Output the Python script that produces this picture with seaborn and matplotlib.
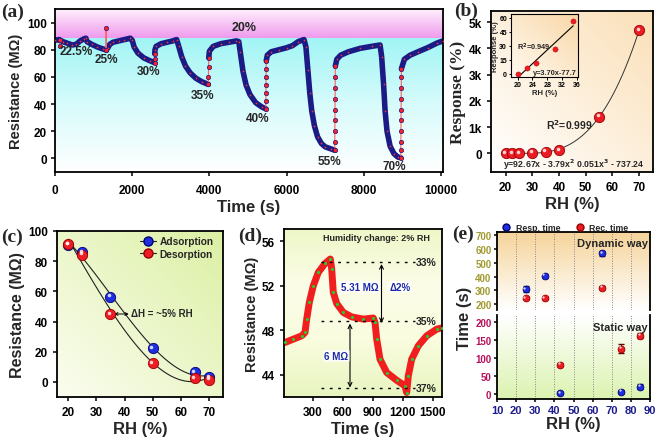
import numpy as np
import pandas as pd
import matplotlib
matplotlib.use("Agg")
import matplotlib.pyplot as plt
import seaborn as sns
from matplotlib.colors import LinearSegmentedColormap
from matplotlib.lines import Line2D
from matplotlib.transforms import offset_copy
from matplotlib.ticker import FuncFormatter

# ---------------- data ----------------
# (a) dynamic resistance response
time_a = [0, 100, 126, 128, 130, 200, 300, 450, 550, 650, 750, 800, 830, 950, 1100, 1250, 1323, 1325, 1327,
          1360, 1420, 1500, 1650, 1800, 1950,
          2000, 2050, 2150, 2300, 2450, 2580, 2582, 2584, 2590, 2620, 2750, 2900, 3050, 3150,
          3200, 3280, 3380, 3500, 3650, 3800, 3970, 3974, 3978, 3982, 4000, 4100, 4300, 4500, 4700, 4760,
          4800, 4870, 4950, 5050, 5200, 5350, 5460, 5462, 5464, 5466, 5468, 5470, 5472, 5500, 5600, 5800,
          6000, 6150, 6300, 6450,
          6500, 6550, 6600, 6650, 6720, 6800, 6900, 7000, 7150, 7245, 7247, 7249, 7251, 7253, 7255, 7257,
          7259, 7261, 7300, 7400, 7600, 7900, 8200, 8420,
          8460, 8510, 8550, 8600, 8680, 8780, 8880, 8955, 8957, 8959, 8961, 8963, 8965, 8967, 8969, 8971,
          8973, 9050, 9200, 9400, 9650, 9900, 10050]
res_a = [87, 87.5, 87, 83, 87, 86, 85, 83.5, 84, 86.5, 88, 88.5, 86, 84, 82, 80.5, 80, 96, 80,
         81, 84, 85.5, 86.5, 87.5, 88.5,
         87, 82, 77.5, 74, 72, 70.5, 73, 77, 80, 82.5, 84.5, 85.5, 86.5, 87.5,
         83, 75, 68, 63, 59, 56.5, 54.5, 60, 67, 74, 79, 82.5, 84.5, 85.5, 86.5, 86,
         78, 64, 54, 47, 41, 38, 36.5, 42, 48, 54, 60, 66, 72, 76, 78.5, 80,
         81.5, 83, 86, 87.5,
         82, 65, 48, 35, 24, 16, 11, 8.5, 7, 6, 12, 20, 28, 36, 44, 52,
         60, 68, 73, 76, 78.5, 81, 82.5, 83.5,
         75, 55, 35, 20, 9, 3.5, 1, 0.5, 6, 12, 20, 28, 36, 44, 52, 60,
         66, 73, 76, 78.5, 81.5, 85, 86.5]
labels_a = ["22.5%", "25%", "30%", "35%", "40%", "55%", "70%"]
label_t_a = [560, 1330, 2420, 3810, 5260, 7100, 8790]
label_r_a = [79, 73.5, 64, 47, 29.5, -2, -5.5]

# (b) response vs RH
rh_b = [20, 22.5, 25, 30, 35, 40, 55, 70]
resp_b = [0, 6, 11, 26, 57, 130, 1400, 4700]
n_inset = 5

# (c) hysteresis
rh_c = [20, 25, 35, 50, 65, 70]
ads_c = [91, 86, 56.4, 22.4, 6.6, 3.1]
des_c = [91.4, 84.2, 44.7, 12.5, 2.6, 1.5]

# (d) 2% RH change
time_d = [25, 108, 192, 225, 242, 268, 308, 358, 425, 478, 492, 508, 542, 608, 692, 808, 908, 925,
          942, 975, 1042, 1142, 1225, 1242, 1258, 1292, 1358, 1442, 1542, 1590]
res_d = [46.9, 47.2, 47.5, 47.8, 49.0, 50.5, 52.0, 53.2, 54.0, 54.4, 53.5, 51.4, 50.4, 49.6, 49.2, 49.0,
         49.1, 48.7, 47.2, 45.4, 44.2, 43.5, 43.0, 42.4, 43.9, 45.4, 46.6, 47.5, 48.1, 48.2]
levels_d = [54.15, 48.85, 42.85]
level_labels_d = ["33%", "35%", "37%"]

# (e) response / recovery times
rh_dyn = [25, 35, 65]
resp_dyn = [308, 405, 568]
resp_dyn_err = [20, 15, 18]
rec_dyn = [245, 245, 320]
rec_dyn_err = [8, 6, 8]
rh_sta = [43, 75, 85]
resp_sta = [2, 6, 20]
resp_sta_err = [3, 4, 7]
rec_sta = [82, 126, 162]
rec_sta_err = [4, 12, 7]

# ---------------- style ----------------
sns.set_theme(style="ticks")
plt.rcParams["font.family"] = ["Liberation Sans", "DejaVu Sans"]
plt.rcParams.update({
    "font.weight": "bold", "axes.labelweight": "bold", "axes.linewidth": 1.3,
    "xtick.major.width": 1.1, "ytick.major.width": 1.1,
    "xtick.major.size": 3, "ytick.major.size": 3,
    "xtick.color": "black", "ytick.color": "black", "axes.edgecolor": "black",
    "xtick.labelsize": 8.5, "ytick.labelsize": 8.5, "axes.labelsize": 11.5,
})

W, H = 660, 439
fig = plt.figure(figsize=(6.6, 4.39), dpi=100)


def box(l, t, r, b):
    return [l / W, 1 - b / H, (r - l) / W, (b - t) / H]


def grad_bg(ax, c0, c1, mode="v", z=-5):
    cmap = LinearSegmentedColormap.from_list("g", [c0, c1])
    n = 200
    xx, yy = np.meshgrid(np.linspace(0, 1, n), np.linspace(1, 0, n))
    if mode == "v":
        g = yy
    elif mode == "d":
        g = (xx + yy) / 2
    else:
        g = xx
    ax.imshow(g, extent=(0, 1, 0, 1), transform=ax.transAxes, cmap=cmap, aspect="auto",
              zorder=z, interpolation="bilinear")


def spheres(ax, x, y, s, color, edge, hl="white"):
    ax.scatter(x, y, s=s, color=color, edgecolor=edge, linewidth=0.6, zorder=4)
    tr = offset_copy(ax.transData, fig=fig, x=-1.0, y=1.0, units="points")
    ax.scatter(x, y, s=s * 0.12, color=hl, alpha=0.8, linewidth=0, zorder=5, transform=tr)


RED = "#ec1c24"
BLUE = "#1f2fe0"
NAVY = "#1b1b86"
serif = ["Liberation Serif", "DejaVu Serif"]

# ---------------- (a) ----------------
axa = fig.add_axes(box(55, 10, 443, 173))
axa.set_xlim(0, 10050)
axa.set_ylim(-10, 110)
pink = LinearSegmentedColormap.from_list("p", ["#fff0fd", "#ee98ec"])
cyan = LinearSegmentedColormap.from_list("c", ["#a2f5f5", "#d8fbfb", "#ffffff"])
axa.imshow(np.linspace(0, 1, 100)[:, None], extent=(0, 10050, 88, 110), cmap=pink,
           aspect="auto", zorder=0, origin="upper")
axa.imshow(np.linspace(0, 1, 100)[:, None], extent=(0, 10050, -10, 88), cmap=cyan,
           aspect="auto", zorder=0, origin="upper")
df_a = pd.DataFrame({"t": time_a, "r": res_a})
slope = df_a.r.diff().abs() / df_a.t.diff()
steep_prev = (slope > 1.0).fillna(False)
steep_next = steep_prev.shift(-1, fill_value=False)
interior = steep_prev & steep_next
in_jump = steep_prev | steep_next
axa.plot(df_a.t, df_a.r.where(~interior), color=NAVY, lw=4.0, zorder=2,
         solid_capstyle="round", solid_joinstyle="round")
axa.plot(df_a.t, df_a.r.where(in_jump), color="#ff6060", lw=0.8, zorder=3)
sns.scatterplot(x=df_a.t[in_jump], y=df_a.r[in_jump], s=10, color="#ff2020", edgecolor=NAVY,
                linewidth=0.5, ax=axa, zorder=4)
sns.scatterplot(x=df_a.t[~in_jump], y=df_a.r[~in_jump], s=1.5, color="#ff3030", linewidth=0,
                ax=axa, zorder=4)
for lab, tx, ry in zip(labels_a, label_t_a, label_r_a):
    axa.text(tx, ry, lab, ha="center", va="center", fontsize=8.5, fontweight="bold", zorder=6)
axa.text(4900, 97, "20%", ha="center", va="center", fontsize=9, fontweight="bold", zorder=6)
axa.set_xticks([0, 2000, 4000, 6000, 8000, 10000])
axa.set_yticks([0, 20, 40, 60, 80, 100])
axa.set_xlabel("Time (s)", fontsize=12, labelpad=2)
axa.set_ylabel("Resistance (MΩ)", fontsize=10.5, labelpad=3)
axa.tick_params(axis="x", pad=6)
axa.tick_params(axis="y", pad=3)

# ---------------- (b) ----------------
axb = fig.add_axes(box(491, 12, 653, 173))
grad_bg(axb, "#ffffff", "#fbe0b8", "d")
sns.regplot(x=rh_b, y=resp_b, order=3, ci=None, scatter=False, truncate=True,
            line_kws=dict(color="#333333", lw=0.7), ax=axb)
spheres(axb, rh_b, resp_b, 55, RED, "#9a0000")
axb.set_xlim(14.5, 75.2)
axb.set_ylim(-710, 5430)
axb.set_xticks([20, 30, 40, 50, 60, 70])
axb.set_yticks([0, 1000, 2000, 3000, 4000, 5000])
axb.yaxis.set_major_formatter(FuncFormatter(lambda v, p: "0" if v == 0 else f"{int(v / 1000)}k"))
axb.set_xlabel("RH (%)", fontsize=12, labelpad=2)
axb.set_ylabel("Response (%)", fontsize=12.5, family=serif, labelpad=2)
axb.text(43.7, 1120, "R$^\\mathbf{2}$=0.999", ha="center", va="center", fontsize=7.5, fontweight="bold")
axb.text(45.3, -410, "y=92.67x - 3.79x$^\\mathbf{2}$ 0.051x$^\\mathbf{3}$ - 737.24", ha="center",
         va="center", fontsize=6.3, fontweight="bold")

axi = fig.add_axes(box(511, 15, 578, 78))
grad_bg(axi, "#fffaf0", "#f9d7a8", "d")
sns.regplot(x=rh_b[:n_inset], y=resp_b[:n_inset], order=1, ci=None, scatter=False, truncate=True,
            line_kws=dict(color="black", lw=0.8), ax=axi)
sns.scatterplot(x=rh_b[:n_inset], y=resp_b[:n_inset], s=14, color=RED, edgecolor="#b00000",
                linewidth=0.3, ax=axi, zorder=4)
axi.set_xlim(18.2, 36.3)
axi.set_ylim(-3.5, 64)
axi.set_xticks([20, 24, 28, 32, 36])
axi.set_yticks([0, 15, 30, 45, 60])
axi.tick_params(labelsize=5, length=1.8, width=0.7, pad=1)
for s in axi.spines.values():
    s.set_linewidth(0.8)
axi.set_xlabel("RH (%)", fontsize=5.5, labelpad=0.5)
axi.set_ylabel("Response (%)", fontsize=5.5, labelpad=0.5)
axi.text(24.5, 29.5, "R$^\\mathbf{2}$=0.949", ha="center", va="center", fontsize=5.3, fontweight="bold")
axi.text(36.0, 0.8, "y=3.70x-77.7", ha="right", va="center", fontsize=5.3, fontweight="bold")

# ---------------- (c) ----------------
axc = fig.add_axes(box(57, 232, 223, 398))
grad_bg(axc, "#fbfdf0", "#dcf0a4", "d")
sns.regplot(x=rh_c, y=ads_c, order=3, ci=None, scatter=False, truncate=True,
            line_kws=dict(color="#222222", lw=0.8), ax=axc)
sns.regplot(x=rh_c, y=des_c, order=3, ci=None, scatter=False, truncate=True,
            line_kws=dict(color="#222222", lw=0.8), ax=axc)
spheres(axc, rh_c, ads_c, 55, BLUE, "#000070")
spheres(axc, rh_c, des_c, 55, RED, "#9a0000")
axc.set_xlim(16, 75)
axc.set_ylim(-10, 100)
axc.set_xticks([20, 30, 40, 50, 60, 70])
axc.set_yticks([0, 20, 40, 60, 80, 100])
axc.set_xlabel("RH (%)", fontsize=12, labelpad=2)
axc.set_ylabel("Resistance (MΩ)", fontsize=11.5, labelpad=2)
axc.annotate("", xy=(36.3, 45), xytext=(41.5, 45),
             arrowprops=dict(arrowstyle="<->", lw=0.7, color="black", shrinkA=0, shrinkB=0,
                             mutation_scale=5))
axc.text(42.3, 45.5, "ΔH = ~5% RH", ha="left", va="center", fontsize=7, fontweight="bold")
hnd = [Line2D([], [], color="#222222", lw=0.8, marker="o", ms=6.5, mfc=BLUE, mec="#000070"),
       Line2D([], [], color="#222222", lw=0.8, marker="o", ms=6.5, mfc=RED, mec="#9a0000")]
axc.legend(hnd, ["Adsorption", "Desorption"], loc="upper left", bbox_to_anchor=(0.47, 1.0),
           frameon=False, handlelength=1.6, handletextpad=0.3, labelspacing=0.25,
           borderaxespad=0.1, prop=dict(weight="bold", size=7.3))

# ---------------- (d) ----------------
axd = fig.add_axes(box(284, 230, 442, 398))
cmap_d = LinearSegmentedColormap.from_list("d", ["#eef7c8", "#fcfde8", "#f9fcde", "#e8f5c0"])
axd.imshow(np.linspace(0, 1, 100)[:, None], extent=(0, 1, 0, 1), transform=axd.transAxes,
           cmap=cmap_d, aspect="auto", zorder=-5)
axd.plot(time_d, res_d, color="#f01e1e", lw=5, zorder=2, solid_capstyle="round",
         solid_joinstyle="round")
sns.scatterplot(x=time_d, y=res_d, s=5, color="#22d02a", linewidth=0, ax=axd, zorder=3)
for lv, lab in zip(levels_d, level_labels_d):
    axd.hlines(lv, 380, 1320, colors="black", linestyles=(0, (2, 4)), lw=1.0, zorder=4)
    axd.text(1335, lv, lab, ha="left", va="center", fontsize=7.5, fontweight="bold")
axd.annotate("", xy=(990, levels_d[0] - 0.2), xytext=(990, levels_d[1] - 0.2),
             arrowprops=dict(arrowstyle="<->", lw=0.8, color="black", shrinkA=0, shrinkB=0,
                             mutation_scale=7))
axd.annotate("", xy=(675, levels_d[1] - 0.25), xytext=(675, levels_d[2]),
             arrowprops=dict(arrowstyle="<->", lw=0.8, color="black", shrinkA=0, shrinkB=0,
                             mutation_scale=7))
bb = dict(boxstyle="round,pad=0.1", fc="white", ec="none", alpha=0.8)
axd.text(775, 51.9, "5.31 MΩ", ha="center", va="center", fontsize=7, fontweight="bold",
         color="#1e2aa8", bbox=bb)
axd.text(1175, 51.9, "Δ2%", ha="center", va="center", fontsize=7, fontweight="bold",
         color="#1e2aa8", bbox=bb)
axd.text(540, 45.7, "6 MΩ", ha="center", va="center", fontsize=7, fontweight="bold",
         color="#1e2aa8", bbox=bb)
axd.text(940, 56.3, "Humidity change: 2% RH", ha="center", va="center", fontsize=6.5,
         fontweight="bold")
axd.set_xlim(15, 1595)
axd.set_ylim(42.0, 57.1)
axd.set_xticks([300, 600, 900, 1200, 1500])
axd.set_yticks([44, 48, 52, 56])
axd.set_xlabel("Time (s)", fontsize=12, labelpad=2)
axd.set_ylabel("Resistance (MΩ)", fontsize=10.5, labelpad=2)

# ---------------- (e) ----------------
axe1 = fig.add_axes(box(497, 233, 650, 311))
axe2 = fig.add_axes(box(497, 316, 650, 400))
grad_bg(axe1, "#ffffff", "#f6d49a", "v")
grad_bg(axe2, "#dcf3b0", "#ffffff", "v")
for ax in (axe1, axe2):
    ax.set_xlim(10, 90)
    ax.set_xticks(range(10, 91, 10))
    for gx in range(20, 90, 10):
        ax.axvline(gx, color="#888888", ls=(0, (1, 1.5)), lw=0.7, zorder=0)
    ax.tick_params(labelsize=7, length=2.5, pad=1.5)
axe1.errorbar(rh_dyn, resp_dyn, yerr=resp_dyn_err, fmt="none", ecolor="#202060", capsize=2, lw=0.8)
axe1.errorbar(rh_dyn, rec_dyn, yerr=rec_dyn_err, fmt="none", ecolor="#600000", capsize=2, lw=0.8)
spheres(axe1, rh_dyn, resp_dyn, 24, BLUE, "#000070")
spheres(axe1, rh_dyn, rec_dyn, 24, RED, "#9a0000")
axe2.errorbar(rh_sta, resp_sta, yerr=resp_sta_err, fmt="none", ecolor="#202060", capsize=2, lw=0.8)
axe2.errorbar(rh_sta, rec_sta, yerr=rec_sta_err, fmt="none", ecolor="#600000", capsize=2, lw=0.8)
spheres(axe2, rh_sta, resp_sta, 24, BLUE, "#000070")
spheres(axe2, rh_sta, rec_sta, 24, RED, "#9a0000")
axe1.set_ylim(158, 722)
axe1.set_yticks([200, 300, 400, 500, 600, 700])
axe2.set_ylim(-14, 220)
axe2.set_yticks([0, 50, 100, 150, 200])
axe1.spines["bottom"].set_visible(False)
axe1.tick_params(axis="x", bottom=False, labelbottom=False)
axe2.spines["top"].set_visible(False)
for t in axe1.get_yticklabels():
    t.set_color("#a09a30")
for t in axe2.get_yticklabels():
    t.set_color("#b8105a")
for t in axe2.get_xticklabels():
    t.set_color("#1c1c8c")
    t.set_fontsize(8)
axe2.set_xlabel("RH (%)", fontsize=12, labelpad=1)
axe1.text(0.985, 0.86, "Dynamic way", transform=axe1.transAxes, ha="right", va="center",
          fontsize=8, fontweight="bold")
axe2.text(0.985, 0.86, "Static way", transform=axe2.transAxes, ha="right", va="center",
          fontsize=8, fontweight="bold")
fig.text(465 / W, 1 - 318 / H, "Time (s)", rotation=90, ha="center", va="center", fontsize=12,
         fontweight="bold")
hnd_e = [Line2D([], [], ls="none", marker="o", ms=5, mfc=BLUE, mec="#000070"),
         Line2D([], [], ls="none", marker="o", ms=5, mfc=RED, mec="#9a0000")]
axe1.legend(hnd_e, ["Resp. time", "Rec. time"], loc="lower left", bbox_to_anchor=(0.0, 1.0),
            ncol=2, frameon=False, handletextpad=0.1, columnspacing=1.2, borderaxespad=0,
            borderpad=0.05, prop=dict(weight="bold", size=6.3))

# ---------------- panel labels ----------------
for lab, px, py in [("(a)", 13, 12), ("(b)", 466, 11), ("(c)", 12, 237), ("(d)", 250, 236),
                    ("(e)", 463, 234)]:
    fig.text(px / W, 1 - py / H, lab, ha="center", va="center", fontsize=14, fontweight="bold",
             family=serif)

fig.savefig("out.png", dpi=100)
